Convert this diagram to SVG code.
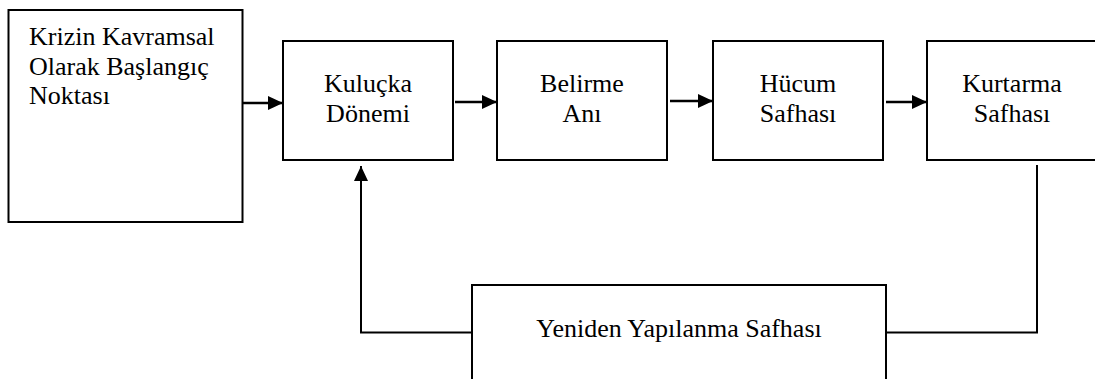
<svg xmlns="http://www.w3.org/2000/svg" width="1095" height="379" viewBox="0 0 1095 379">
<style>
.box{fill:#fff;stroke:#000;stroke-width:2}
.t{font-size:26px;fill:#000}
.c{text-anchor:middle}
.ln{fill:none;stroke:#000;stroke-width:2.5}
</style>
<defs>
<marker id="ah" markerWidth="15" markerHeight="14" refX="15" refY="7" orient="auto" markerUnits="userSpaceOnUse">
<path d="M0,0 L15,7 L0,14 Z" fill="#000"/>
</marker>
</defs>
<rect width="1095" height="379" fill="#fff"/>
<g font-family="'Liberation Serif', 'Times New Roman', serif">
<g id="n1">
<rect class="box" x="8.5" y="10" width="234" height="212"/>
<text class="t" x="29" y="45">Krizin Kavramsal</text>
<text class="t" x="29" y="74.5">Olarak Başlangıç</text>
<text class="t" x="29" y="103.5">Noktası</text>
</g>
<g id="n2">
<rect class="box" x="283" y="41" width="170" height="119"/>
<text class="t c" x="368" y="92">Kuluçka</text>
<text class="t c" x="368" y="122">Dönemi</text>
</g>
<g id="n3">
<rect class="box" x="497" y="41" width="170" height="119"/>
<text class="t c" x="582" y="92">Belirme</text>
<text class="t c" x="582" y="122">Anı</text>
</g>
<g id="n4">
<rect class="box" x="713" y="41" width="170" height="119"/>
<text class="t c" x="798" y="92">Hücum</text>
<text class="t c" x="798" y="122">Safhası</text>
</g>
<g id="n5">
<rect class="box" x="927" y="41" width="172" height="119"/>
<text class="t c" x="1012" y="92">Kurtarma</text>
<text class="t c" x="1012" y="122">Safhası</text>
</g>
<g id="n6">
<rect class="box" x="472" y="285" width="414" height="100"/>
<text class="t c" x="679" y="337">Yeniden Yapılanma Safhası</text>
</g>
</g>
<g id="connectors">
<line class="ln" x1="243" y1="103" x2="283" y2="103" marker-end="url(#ah)"/>
<line class="ln" x1="455" y1="102" x2="497" y2="102" marker-end="url(#ah)"/>
<line class="ln" x1="670" y1="101" x2="713" y2="101" marker-end="url(#ah)"/>
<line class="ln" x1="886" y1="102" x2="927" y2="102" marker-end="url(#ah)"/>
<path class="ln" style="stroke-width:2" d="M1037,165 V332.5 H886"/>
<path class="ln" style="stroke-width:2" d="M472,332.5 H361 V166" marker-end="url(#ah)"/>
</g>
</svg>
